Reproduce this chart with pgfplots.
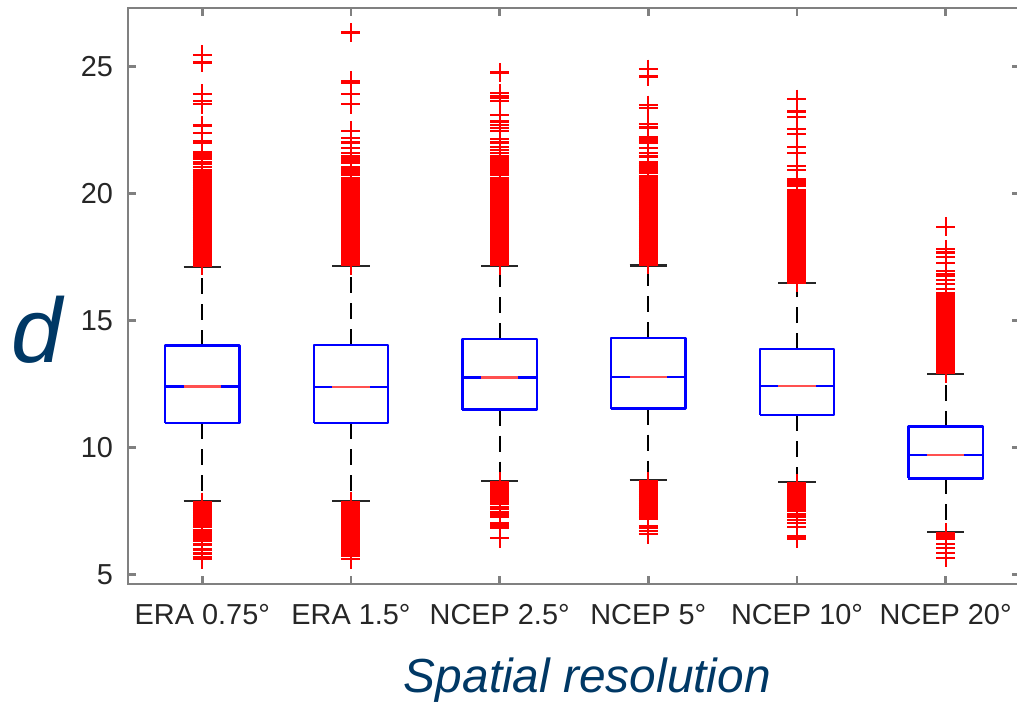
\documentclass[border=0pt]{standalone}
\usepackage{pgfplots}
\pgfplotsset{compat=1.18}
\usepackage{fontspec}
\setmainfont{Liberation Sans}
\definecolor{axgray}{RGB}{128,128,128}
\definecolor{tickgray}{RGB}{38,38,38}
\definecolor{labelblue}{RGB}{0,56,101}
\definecolor{medred}{RGB}{255,80,80}
\pgfplotsset{
  outl/.style={only marks, mark=+, color=red, mark size=4.75bp, mark options={line width=1.15bp}},
  bx/.style={blue, line width=1.2bp, line join=round, no marks},
  medb/.style={blue, line width=1.3bp, no marks},
  medr/.style={medred, line width=1.3bp, no marks},
  wsk/.style={black, line width=1bp, dash pattern=on 8bp off 5bp, no marks, unbounded coords=jump},
  cap/.style={black!85, line width=1.1bp, no marks, unbounded coords=jump},
}
\begin{document}
\begin{tikzpicture}
\begin{axis}[
  at={(0,0)}, anchor=south west,
  scale only axis, width=446bp, height=288bp,
  xmin=0.5, xmax=6.5, ymin=4.626, ymax=27.3,
  xtick={1,2,3,4,5,6},
  xticklabels={ERA 0.75°, ERA 1.5°, NCEP 2.5°, NCEP 5°, NCEP 10°, NCEP 20°},
  ytick={5,10,15,20,25},
  tick align=inside, major tick length=4bp,
  axis line style={axgray, line width=1.2bp},
  every tick/.style={axgray, line width=1.2bp},
  ticklabel style={font=\fontsize{14.5}{17}\selectfont, text=tickgray},
  yticklabel style={xshift=-4bp},
  xticklabel style={yshift=-6.5bp},
  /pgf/number format/assume math mode=true,
  xlabel={Spatial resolution},
  xlabel style={at={(axis description cs:0.515,-0.167)}, anchor=center,
    font=\fontsize{24}{28}\selectfont\itshape, text=labelblue},
  ylabel={d},
  ylabel style={rotate=-90, at={(axis description cs:-0.102,0.441)}, anchor=center,
    font=\fontsize{46}{52}\selectfont\itshape, text=labelblue},
  clip=false,
]
% ---------------- whiskers (box edge to whisker end) ----------------
\addplot[wsk] coordinates {(1,14.01)(1,17.09) (1,nan) (1,10.96)(1,7.89)};
\addplot[wsk] coordinates {(2,14.04)(2,17.15) (2,nan) (2,10.96)(2,7.90)};
\addplot[wsk] coordinates {(3,14.28)(3,17.15) (3,nan) (3,11.49)(3,8.69)};
\addplot[wsk] coordinates {(4,14.31)(4,17.16) (4,nan) (4,11.53)(4,8.72)};
\addplot[wsk] coordinates {(5,13.87)(5,16.46) (5,nan) (5,11.27)(5,8.63)};
\addplot[wsk] coordinates {(6,10.82)(6,12.89) (6,nan) (6,8.78)(6,6.68)};
% ---------------- outliers ----------------
\addplot[outl] coordinates {
(1,17.15)(1,17.24)(1,17.33)(1,17.42)(1,17.51)(1,17.60)(1,17.69)(1,17.78)(1,17.87)(1,17.96)
(1,18.05)(1,18.14)(1,18.23)(1,18.32)(1,18.41)(1,18.50)(1,18.59)(1,18.68)(1,18.77)(1,18.86)
(1,18.95)(1,19.04)(1,19.13)(1,19.22)(1,19.31)(1,19.40)(1,19.49)(1,19.58)(1,19.67)(1,19.76)
(1,19.85)(1,19.94)(1,20.03)(1,20.12)(1,20.21)(1,20.30)(1,20.39)(1,20.48)(1,20.57)(1,20.66)
(1,20.75)(1,20.84)(1,20.93)(1,21.05)(1,21.15)(1,21.25)(1,21.35)(1,21.45)(1,21.55)(1,21.62)
(1,21.98)(1,22.05)(1,22.37)(1,22.68)(1,23.52)(1,23.64)(1,23.92)(1,25.15)(1,25.45)
(1,7.85)(1,7.76)(1,7.67)(1,7.58)(1,7.49)(1,7.40)(1,7.31)(1,7.22)(1,7.13)(1,7.04)(1,6.95)(1,6.86)
(1,6.75)(1,6.67)(1,6.58)(1,6.50)(1,6.41)(1,6.34)(1,6.18)(1,5.98)(1,5.83)(1,5.70)(1,5.60)
};
\addplot[outl] coordinates {
(2,17.18)(2,17.27)(2,17.36)(2,17.45)(2,17.54)(2,17.63)(2,17.72)(2,17.81)(2,17.90)(2,17.99)
(2,18.08)(2,18.17)(2,18.26)(2,18.35)(2,18.44)(2,18.53)(2,18.62)(2,18.71)(2,18.80)(2,18.89)
(2,18.98)(2,19.07)(2,19.16)(2,19.25)(2,19.34)(2,19.43)(2,19.52)(2,19.61)(2,19.70)(2,19.79)
(2,19.88)(2,19.97)(2,20.06)(2,20.15)(2,20.24)(2,20.33)(2,20.42)(2,20.51)(2,20.60)
(2,20.75)(2,20.83)(2,20.91)(2,20.99)(2,21.05)(2,21.22)(2,21.30)(2,21.38)(2,21.45)
(2,21.58)(2,21.78)(2,22.00)(2,22.17)(2,22.46)(2,23.51)(2,23.92)(2,24.34)(2,24.44)(2,26.33)
(2,7.86)(2,7.77)(2,7.68)(2,7.59)(2,7.50)(2,7.41)(2,7.32)(2,7.23)(2,7.14)(2,7.05)(2,6.96)(2,6.87)
(2,6.78)(2,6.69)(2,6.60)(2,6.51)(2,6.42)(2,6.33)(2,6.24)(2,6.15)(2,6.06)(2,5.97)(2,5.93)
(2,5.83)(2,5.73)(2,5.60)
};
\addplot[outl] coordinates {
(3,17.18)(3,17.27)(3,17.36)(3,17.45)(3,17.54)(3,17.63)(3,17.72)(3,17.81)(3,17.90)(3,17.99)
(3,18.08)(3,18.17)(3,18.26)(3,18.35)(3,18.44)(3,18.53)(3,18.62)(3,18.71)(3,18.80)(3,18.89)
(3,18.98)(3,19.07)(3,19.16)(3,19.25)(3,19.34)(3,19.43)(3,19.52)(3,19.61)(3,19.70)(3,19.79)
(3,19.88)(3,19.97)(3,20.06)(3,20.15)(3,20.24)(3,20.33)(3,20.42)(3,20.51)(3,20.60)
(3,20.73)(3,20.82)(3,20.91)(3,21.00)(3,21.09)(3,21.18)(3,21.27)(3,21.36)(3,21.45)
(3,21.60)(3,21.71)(3,21.84)(3,22.00)(3,22.13)(3,22.46)(3,22.57)(3,22.70)(3,22.83)(3,23.09)
(3,23.64)(3,23.75)(3,23.84)(3,23.95)(3,24.76)
(3,8.65)(3,8.56)(3,8.47)(3,8.38)(3,8.29)(3,8.20)(3,8.11)(3,8.02)(3,7.93)(3,7.84)(3,7.80)
(3,7.67)(3,7.57)(3,7.47)(3,7.38)(3,7.28)(3,7.04)(3,6.95)(3,6.86)(3,6.82)(3,6.43)
};
\addplot[outl] coordinates {
(4,17.19)(4,17.28)(4,17.37)(4,17.46)(4,17.55)(4,17.64)(4,17.73)(4,17.82)(4,17.91)(4,18.00)
(4,18.09)(4,18.18)(4,18.27)(4,18.36)(4,18.45)(4,18.54)(4,18.63)(4,18.72)(4,18.81)(4,18.90)
(4,18.99)(4,19.08)(4,19.17)(4,19.26)(4,19.35)(4,19.44)(4,19.53)(4,19.62)(4,19.71)(4,19.80)
(4,19.89)(4,19.98)(4,20.07)(4,20.16)(4,20.25)(4,20.34)
(4,20.43)(4,20.52)(4,20.61)(4,20.70)(4,20.82)(4,20.90)(4,20.99)(4,21.08)(4,21.16)(4,21.23)
(4,21.45)(4,21.60)(4,21.80)(4,21.98)(4,22.07)(4,22.14)(4,22.20)(4,22.60)(4,22.74)
(4,23.35)(4,23.48)(4,24.60)(4,24.89)
(4,8.68)(4,8.59)(4,8.50)(4,8.41)(4,8.32)(4,8.23)(4,8.14)(4,8.05)(4,7.96)(4,7.87)(4,7.78)
(4,7.69)(4,7.60)(4,7.54)(4,7.45)(4,7.36)(4,7.27)(4,7.21)(4,6.91)(4,6.82)(4,6.72)(4,6.59)
};
\addplot[outl] coordinates {
(5,16.50)(5,16.59)(5,16.68)(5,16.77)(5,16.86)(5,16.95)(5,17.04)(5,17.13)(5,17.22)(5,17.31)
(5,17.40)(5,17.49)(5,17.58)(5,17.67)(5,17.76)(5,17.85)(5,17.94)(5,18.03)(5,18.12)(5,18.21)
(5,18.30)(5,18.39)(5,18.48)(5,18.57)(5,18.66)(5,18.75)(5,18.84)(5,18.93)(5,19.02)(5,19.11)
(5,19.20)(5,19.29)(5,19.38)(5,19.47)(5,19.56)(5,19.65)(5,19.74)(5,19.83)(5,19.92)(5,20.01)
(5,20.10)(5,20.14)(5,20.30)(5,20.39)(5,20.48)(5,20.56)(5,20.93)(5,21.08)(5,21.58)(5,21.84)
(5,22.34)(5,22.53)(5,23.02)(5,23.22)(5,23.71)
(5,8.59)(5,8.50)(5,8.41)(5,8.32)(5,8.23)(5,8.14)(5,8.05)(5,7.96)(5,7.87)(5,7.78)(5,7.69)
(5,7.60)(5,7.51)(5,7.38)(5,7.28)(5,7.15)(5,7.02)(5,6.86)(5,6.52)(5,6.45)(5,6.40)
};
\addplot[outl] coordinates {
(6,12.93)(6,13.02)(6,13.11)(6,13.20)(6,13.29)(6,13.38)(6,13.47)(6,13.56)(6,13.65)(6,13.74)
(6,13.83)(6,13.92)(6,14.01)(6,14.10)(6,14.19)(6,14.28)(6,14.37)(6,14.46)(6,14.55)(6,14.64)
(6,14.73)(6,14.82)(6,14.91)(6,15.00)(6,15.09)(6,15.18)(6,15.27)(6,15.36)(6,15.45)(6,15.54)
(6,15.63)(6,15.72)(6,15.81)(6,15.90)(6,15.99)(6,16.07)(6,16.23)(6,16.44)(6,16.60)
(6,16.75)(6,16.84)(6,16.96)(6,17.25)(6,17.51)(6,17.67)(6,17.80)(6,18.69)
(6,6.64)(6,6.55)(6,6.46)(6,6.41)(6,6.21)(6,6.03)(6,5.85)(6,5.65)
};
% ---------------- whisker caps ----------------
\addplot[cap] coordinates {(0.875,17.09)(1.125,17.09) (1,nan) (0.875,7.89)(1.125,7.89)};
\addplot[cap] coordinates {(1.875,17.15)(2.125,17.15) (2,nan) (1.875,7.90)(2.125,7.90)};
\addplot[cap] coordinates {(2.875,17.15)(3.125,17.15) (3,nan) (2.875,8.69)(3.125,8.69)};
\addplot[cap] coordinates {(3.875,17.16)(4.125,17.16) (4,nan) (3.875,8.72)(4.125,8.72)};
\addplot[cap] coordinates {(4.875,16.46)(5.125,16.46) (5,nan) (4.875,8.63)(5.125,8.63)};
\addplot[cap] coordinates {(5.875,12.89)(6.125,12.89) (6,nan) (5.875,6.68)(6.125,6.68)};
% ---------------- boxes (lower quartile, upper quartile) ----------------
\addplot[bx] coordinates {(0.75,10.96)(1.25,10.96)(1.25,14.01)(0.75,14.01)(0.75,10.96)};
\addplot[bx] coordinates {(1.75,10.96)(2.25,10.96)(2.25,14.04)(1.75,14.04)(1.75,10.96)};
\addplot[bx] coordinates {(2.75,11.49)(3.25,11.49)(3.25,14.28)(2.75,14.28)(2.75,11.49)};
\addplot[bx] coordinates {(3.75,11.53)(4.25,11.53)(4.25,14.31)(3.75,14.31)(3.75,11.53)};
\addplot[bx] coordinates {(4.75,11.27)(5.25,11.27)(5.25,13.87)(4.75,13.87)(4.75,11.27)};
\addplot[bx] coordinates {(5.75,8.78)(6.25,8.78)(6.25,10.82)(5.75,10.82)(5.75,8.78)};
% ---------------- medians ----------------
\addplot[medb] coordinates {(0.75,12.39)(1.25,12.39)};
\addplot[medb] coordinates {(1.75,12.38)(2.25,12.38)};
\addplot[medb] coordinates {(2.75,12.75)(3.25,12.75)};
\addplot[medb] coordinates {(3.75,12.78)(4.25,12.78)};
\addplot[medb] coordinates {(4.75,12.42)(5.25,12.42)};
\addplot[medb] coordinates {(5.75,9.71)(6.25,9.71)};
\addplot[medr] coordinates {(0.875,12.39)(1.125,12.39)};
\addplot[medr] coordinates {(1.875,12.38)(2.125,12.38)};
\addplot[medr] coordinates {(2.875,12.75)(3.125,12.75)};
\addplot[medr] coordinates {(3.875,12.78)(4.125,12.78)};
\addplot[medr] coordinates {(4.875,12.42)(5.125,12.42)};
\addplot[medr] coordinates {(5.875,9.71)(6.125,9.71)};
\end{axis}
\pgfresetboundingbox
\useasboundingbox (-64bp,-61bp) rectangle (444.5bp,292bp);
\end{tikzpicture}
\end{document}
